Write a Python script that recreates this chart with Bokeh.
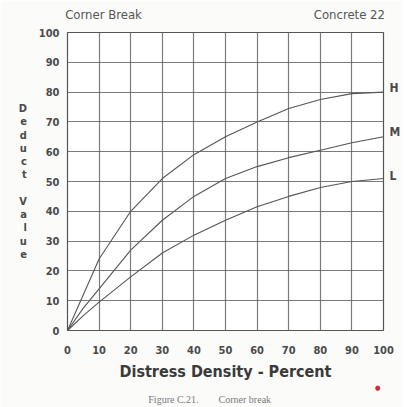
from bokeh.plotting import figure
from bokeh.models import Range1d, FixedTicker, LinearAxis
from bokeh.embed import file_html
from bokeh.resources import INLINE

density = [0, 5, 10, 20, 30, 40, 50, 60, 70, 80, 90, 100]
high = [0, 12, 24, 40, 51, 59, 65, 70, 74.5, 77.5, 79.5, 80]
medium = [0, 7.5, 14, 27, 37, 45, 51, 55, 58, 60.5, 63, 65]
low = [0, 5, 9.5, 18, 26, 32, 37, 41.5, 45, 48, 50, 51]
ticks = [0, 10, 20, 30, 40, 50, 60, 70, 80, 90, 100]
severity_pos = [81.5, 66.5, 52]
severity_lab = ["H", "M", "L"]
header_pos = [11.4, 89.2]
header_lab = ["Corner Break", "Concrete 22"]
dot_pos = [98.2]
cap_pos = [45]
caption = "Figure C.21.\u2003\u2003Corner break"

FONT = "DejaVu Sans Condensed"
GRAY = "#4a4a4a"

p = figure(width=403, height=407, output_backend="svg", toolbar_location=None,
           x_range=Range1d(0, 100), y_range=Range1d(0, 100),
           min_border_left=67, min_border_right=20, min_border_top=32, min_border_bottom=77)
p.background_fill_color = "white"
p.border_fill_color = "#fbfbfa"
p.outline_line_color = "#555555"
p.outline_line_width = 1.2


def plain(ax, size="11px", style="bold", color=GRAY, font=FONT, standoff=8):
    ax.axis_line_color = None
    ax.major_tick_line_color = None
    ax.minor_tick_line_color = None
    ax.major_tick_out = 0
    ax.major_tick_in = 0
    ax.minor_tick_out = 0
    ax.major_label_text_font = font
    ax.major_label_text_font_size = size
    ax.major_label_text_font_style = style
    ax.major_label_text_color = color
    ax.major_label_standoff = standoff


for ax in (p.xaxis[0], p.yaxis[0]):
    ax.ticker = FixedTicker(ticks=ticks)
    plain(ax)
p.xaxis.major_label_standoff = 15
p.yaxis.major_label_standoff = 8
p.xaxis.axis_label = "Distress Density - Percent"
p.xaxis.axis_label_text_font = FONT
p.xaxis.axis_label_text_font_size = "16px"
p.xaxis.axis_label_text_font_style = "bold"
p.xaxis.axis_label_text_color = "#3a3a3a"
p.xaxis.axis_label_standoff = 5

p.yaxis.axis_label = "D\ne\nd\nu\nc\nt\n\nV\na\nl\nu\ne"
p.yaxis.axis_label_orientation = "horizontal"
p.yaxis.axis_label_text_font = FONT
p.yaxis.axis_label_text_font_size = "11px"
p.yaxis.axis_label_text_font_style = "bold"
p.yaxis.axis_label_text_color = GRAY
p.yaxis.axis_label_text_line_height = 1.02
p.yaxis.axis_label_standoff = 9

# header texts above the frame
top = LinearAxis(ticker=FixedTicker(ticks=header_pos),
                 major_label_overrides=dict(zip(header_pos, header_lab)))
plain(top, size="13px", style="normal", color="#555555", standoff=11)
p.add_layout(top, "above")

# severity labels on the right
right = LinearAxis(ticker=FixedTicker(ticks=severity_pos),
                   major_label_overrides=dict(zip(severity_pos, severity_lab)))
plain(right, size="12px", style="bold", standoff=6)
p.add_layout(right, "right")

# red mark and figure caption below
mark = LinearAxis(ticker=FixedTicker(ticks=dot_pos),
                  major_label_overrides={dot_pos[0]: "\u25cf"})
plain(mark, size="7px", style="normal", color="#d8282f", standoff=0)
p.add_layout(mark, "below")

cap = LinearAxis(ticker=FixedTicker(ticks=cap_pos),
                 major_label_overrides={cap_pos[0]: caption})
plain(cap, size="10px", style="normal", color="#7a7a7a", font="Liberation Serif", standoff=-1)
p.add_layout(cap, "below")

for g in (p.xgrid[0], p.ygrid[0]):
    g.ticker = FixedTicker(ticks=ticks)
    g.grid_line_color = "#5a5a5a"
    g.grid_line_width = 1.2
    g.grid_line_alpha = 0.8

for ys in (high, medium, low):
    p.line(density, ys, line_color="#555555", line_width=1.1)

open("out.html", "w").write(file_html(p, INLINE))
